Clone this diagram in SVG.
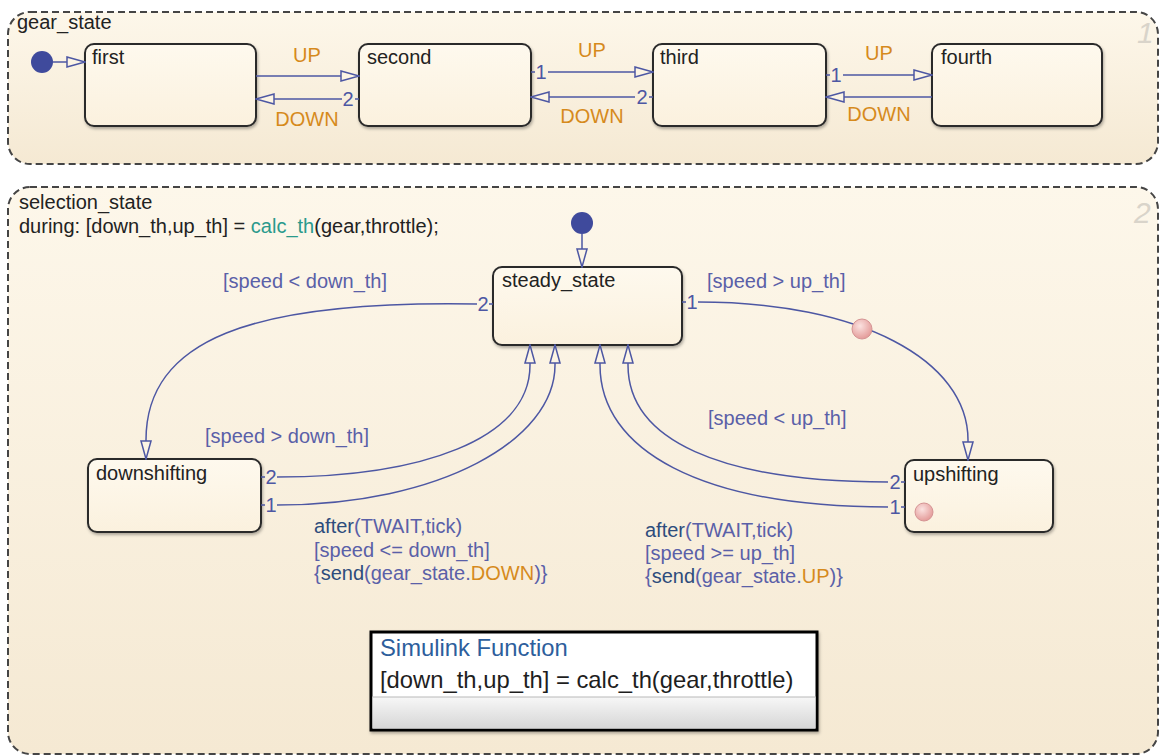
<svg xmlns="http://www.w3.org/2000/svg" width="1159" height="756" viewBox="0 0 1159 756">
<style>
text{font-family:"Liberation Sans",Arial,sans-serif;font-size:20px}
.nm{fill:#222}
.ev{fill:#d68a1c}
.lb{fill:#5a60a8}
.kw{fill:#2d4c7c}
.dg{fill:#4d57a3;text-anchor:middle}
.ctr{fill:url(#bg);stroke:#454545;stroke-width:2;stroke-dasharray:7 4}
.st{fill:url(#sf);stroke:#2a2a2a;stroke-width:2;filter:url(#sh)}
.tr{fill:none;stroke:#4d57a3;stroke-width:1.5}
.ar{marker-end:url(#arr)}
.num{fill:#d9d4ca;font-style:italic;font-size:30px}
.ini{fill:#3f4a9c}
.pk{fill:url(#pg);stroke:#d59494;stroke-width:1}
</style>
<defs>
<linearGradient id="bg" x1="0" y1="0" x2="0" y2="1"><stop offset="0" stop-color="#fdf7ea"/><stop offset="1" stop-color="#f5e9d3"/></linearGradient>
<linearGradient id="sf" x1="0" y1="0" x2="0" y2="1"><stop offset="0" stop-color="#fef9ee"/><stop offset="1" stop-color="#fbf1de"/></linearGradient>
<linearGradient id="gr" x1="0" y1="0" x2="0" y2="1"><stop offset="0" stop-color="#f7f7f7"/><stop offset="1" stop-color="#d6d6d6"/></linearGradient>
<radialGradient id="pg" cx="0.4" cy="0.35" r="0.65"><stop offset="0" stop-color="#fbe2e0"/><stop offset="1" stop-color="#e49c9a"/></radialGradient>
<filter id="sh" x="-10%" y="-10%" width="125%" height="130%"><feDropShadow dx="1" dy="2" stdDeviation="1.5" flood-color="#000" flood-opacity="0.3"/></filter>
<marker id="arr" viewBox="0 0 20 12" refX="19" refY="6" markerWidth="20" markerHeight="12" markerUnits="userSpaceOnUse" orient="auto"><path d="M1,1 L19,6 L1,11 z" fill="#fcf4e4" stroke="#4d57a3" stroke-width="1.5"/></marker>
</defs>

<g id="gear_state">
<rect class="ctr" x="8" y="12" width="1150" height="152" rx="22"/>
<text class="nm" x="17" y="29">gear_state</text>
<text class="num" x="1137" y="43">1</text>
</g>
<g id="first"><rect class="st" x="85" y="44" width="171" height="82" rx="9"/><text class="nm" x="92" y="64">first</text></g>
<g id="second"><rect class="st" x="359" y="44" width="172" height="82" rx="9"/><text class="nm" x="367" y="64">second</text></g>
<g id="third"><rect class="st" x="653" y="44" width="173" height="82" rx="9"/><text class="nm" x="660" y="64">third</text></g>
<g id="fourth"><rect class="st" x="932" y="44" width="170" height="82" rx="9"/><text class="nm" x="941" y="64">fourth</text></g>

<g id="selection_state">
<rect class="ctr" x="8" y="187" width="1150" height="567" rx="22"/>
<text class="nm" x="19" y="209">selection_state</text>
<text class="nm" x="19" y="233">during: [down_th,up_th] = <tspan fill="#2a9a8c">calc_th</tspan>(gear,throttle);</text>
<text class="num" x="1134" y="223">2</text>
</g>
<g id="steady_state"><rect class="st" x="493" y="267" width="189" height="78" rx="9"/><text class="nm" x="502" y="287">steady_state</text></g>
<g id="downshifting"><rect class="st" x="88" y="459" width="173" height="73" rx="9"/><text class="nm" x="96" y="480">downshifting</text></g>
<g id="upshifting"><rect class="st" x="905" y="460" width="148" height="72" rx="9"/><text class="nm" x="913" y="481">upshifting</text>
<circle class="pk" cx="924" cy="512" r="9"/></g>

<g id="simulink_function">
<rect x="371" y="632" width="446" height="98" fill="#fff" stroke="#000" stroke-width="3" filter="url(#sh)"/>
<rect x="372.5" y="697" width="443" height="31.5" fill="url(#gr)"/>
<line x1="372" y1="697" x2="816" y2="697" stroke="#b8b8b8" stroke-width="1"/>
<text x="380" y="656" fill="#2d5e9c" style="font-size:23.8px">Simulink Function</text>
<text x="380" y="688" fill="#1e1e1e" style="font-size:23.8px">[down_th,up_th] = calc_th(gear,throttle)</text>
</g>

<g id="connectors">
<circle class="ini" cx="42" cy="62" r="11"/>
<path class="tr ar" d="M53 62 L85 62"/>
<path class="tr ar" d="M256 76 L359 76"/>
<path class="tr" d="M359 99 L355 99"/>
<path class="tr ar" d="M342 99 L256 99"/>
<path class="tr" d="M531 72 L535 72"/>
<path class="tr ar" d="M548 72 L653 72"/>
<path class="tr" d="M653 97 L649 97"/>
<path class="tr ar" d="M635 97 L531 97"/>
<path class="tr" d="M826 75 L830 75"/>
<path class="tr ar" d="M843 75 L932 75"/>
<path class="tr ar" d="M932 97 L826 97"/>

<circle class="ini" cx="582" cy="223" r="11"/>
<path class="tr ar" d="M582 234 L582 267"/>
<path class="tr" d="M493 304 L489 304"/>
<path class="tr ar" d="M477 304 C250 300 146 340 146 440 L146 459"/>
<path class="tr" d="M682 302 L686 302"/>
<path class="tr ar" d="M698 302 C860 302 968 360 968 440 L968 460"/>
<circle class="pk" cx="862" cy="329" r="10"/>
<path class="tr" d="M261 477 L265 477"/>
<path class="tr ar" d="M277 477 C420 477 530 440 530 365 L530 345"/>
<path class="tr" d="M261 505 L265 505"/>
<path class="tr ar" d="M277 505 C440 505 555 440 555 365 L555 345"/>
<path class="tr" d="M905 482 L901 482"/>
<path class="tr ar" d="M888 482 C720 482 628 440 628 365 L628 345"/>
<path class="tr" d="M905 507 L901 507"/>
<path class="tr ar" d="M888 507 C700 507 600 450 600 365 L600 345"/>
</g>

<g id="labels">
<text class="ev" x="307" y="62" text-anchor="middle">UP</text>
<text class="ev" x="307" y="126" text-anchor="middle">DOWN</text>
<text class="dg" x="348" y="106">2</text>
<text class="ev" x="592" y="57" text-anchor="middle">UP</text>
<text class="ev" x="592" y="123" text-anchor="middle">DOWN</text>
<text class="dg" x="541" y="79">1</text>
<text class="dg" x="642" y="104">2</text>
<text class="ev" x="879" y="60" text-anchor="middle">UP</text>
<text class="ev" x="879" y="121" text-anchor="middle">DOWN</text>
<text class="dg" x="836" y="82">1</text>

<text class="lb" x="223" y="288">[speed &lt; down_th]</text>
<text class="dg" x="483" y="311">2</text>
<text class="lb" x="707" y="288">[speed &gt; up_th]</text>
<text class="dg" x="692" y="309">1</text>
<text class="lb" x="205" y="443">[speed &gt; down_th]</text>
<text class="dg" x="271" y="484">2</text>
<text class="dg" x="271" y="512">1</text>
<text class="lb" x="708" y="425">[speed &lt; up_th]</text>
<text class="dg" x="895" y="489">2</text>
<text class="dg" x="895" y="514">1</text>

<text class="lb" x="314" y="533"><tspan class="kw">after</tspan>(TWAIT,tick)</text>
<text class="lb" x="314" y="557">[speed &lt;= down_th]</text>
<text class="lb" x="314" y="580">{<tspan class="kw">send</tspan>(gear_state.<tspan class="ev">DOWN</tspan>)}</text>
<text class="lb" x="645" y="537"><tspan class="kw">after</tspan>(TWAIT,tick)</text>
<text class="lb" x="645" y="560">[speed &gt;= up_th]</text>
<text class="lb" x="645" y="583">{<tspan class="kw">send</tspan>(gear_state.<tspan class="ev">UP</tspan>)}</text>
</g>
</svg>
